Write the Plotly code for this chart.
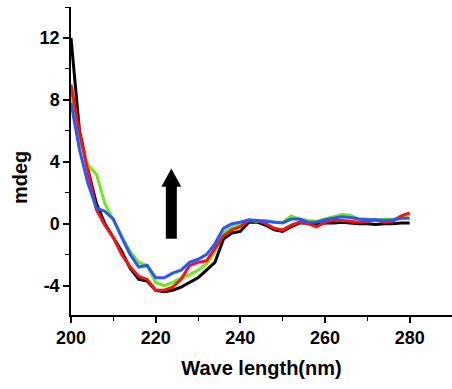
import plotly.graph_objects as go

wavelength = list(range(200, 282, 2))

black_mdeg = [12.0, 6.0, 3.5, 1.3, 0.0, -0.9, -1.8, -2.9, -3.6, -3.7, -4.3, -4.4, -4.3, -4.1, -3.8,
              -3.5, -3.0, -2.5, -1.0, -0.6, -0.5, 0.1, 0.1, -0.1, -0.4, -0.5, -0.2, 0.05, 0.05,
              -0.05, 0.05, 0.05, 0.1, 0.05, 0.0, 0.0, -0.05, 0.0, 0.0, 0.05, 0.05]
green_mdeg = [8.5, 5.5, 3.8, 3.2, 1.3, 0.2, -0.8, -1.8, -2.5, -2.7, -3.8, -4.0, -3.8, -3.5, -3.3,
              -3.0, -2.6, -1.8, -0.6, -0.2, 0.0, 0.2, 0.15, 0.2, 0.1, 0.1, 0.5, 0.3, 0.2,
              0.15, 0.3, 0.45, 0.6, 0.55, 0.3, 0.3, 0.2, 0.3, 0.25, 0.4, 0.6]
red_mdeg = [9.0, 5.9, 3.4, 0.9, -0.1, -0.9, -2.0, -2.8, -3.4, -3.6, -4.3, -4.3, -4.1, -3.6, -2.7,
            -2.5, -2.4, -1.6, -0.8, -0.4, -0.2, 0.2, 0.2, 0.0, -0.3, -0.4, -0.1, 0.1, 0.0,
            -0.2, 0.1, 0.2, 0.2, 0.15, 0.1, 0.15, 0.25, 0.1, 0.15, 0.5, 0.7]
blue_mdeg = [7.8, 4.8, 2.6, 1.0, 0.8, 0.3, -0.9, -2.0, -2.8, -2.7, -3.5, -3.5, -3.2, -3.0, -2.5,
             -2.3, -2.0, -1.3, -0.3, 0.0, 0.1, 0.25, 0.2, 0.15, 0.1, 0.05, 0.3, 0.3, 0.1,
             0.1, 0.25, 0.35, 0.45, 0.4, 0.3, 0.25, 0.25, 0.2, 0.25, 0.35, 0.35]

series = [("black", black_mdeg, "#000000"),
          ("green", green_mdeg, "#6fe81c"),
          ("red", red_mdeg, "#ff1010"),
          ("blue", blue_mdeg, "#2a55ff")]

x_ticks = [200, 220, 240, 260, 280]
y_ticks = [-4, 0, 4, 8, 12]

fig = go.Figure()
for name, vals, col in series:
    fig.add_trace(go.Scatter(x=wavelength, y=vals, mode="lines", name=name,
                             line=dict(color=col, width=3), showlegend=False))

# upward arrow (annotation)
ax_c, y_top, y_head, y_bot, shaft_hw, head_hw = 223.7, 3.56, 2.39, -0.97, 1.3, 2.35
path = (f"M {ax_c - shaft_hw} {y_bot} L {ax_c - shaft_hw} {y_head} L {ax_c - head_hw} {y_head} "
        f"L {ax_c} {y_top} L {ax_c + head_hw} {y_head} L {ax_c + shaft_hw} {y_head} "
        f"L {ax_c + shaft_hw} {y_bot} Z")
fig.add_shape(type="path", path=path, xref="x", yref="y", fillcolor="black",
              line=dict(color="black", width=0))

font_main = "Liberation Sans, Arial, sans-serif"
fig.update_layout(
    width=452, height=389,
    margin=dict(l=71, r=0, t=7, b=74, autoexpand=False),
    paper_bgcolor="white", plot_bgcolor="white",
    font=dict(family=font_main, color="black"),
    xaxis=dict(range=[200, 290], tickvals=x_ticks, ticktext=[f"<b>{v}</b>" for v in x_ticks],
               automargin=False,
               showgrid=False, zeroline=False, showline=True, linecolor="black", linewidth=1.5,
               ticks="outside", ticklen=6, tickwidth=1.5, tickcolor="black",
               tickfont=dict(size=18, family=font_main, color="black"),
               minor=dict(dtick=10, tick0=200, ticks="outside", ticklen=4, tickwidth=1, tickcolor="black"),
               title=dict(text="<b>Wave length(nm)</b>", font=dict(size=20, family=font_main), standoff=14)),
    yaxis=dict(range=[-5.9, 14], tickvals=y_ticks, ticktext=[f"<b>{v}</b>" for v in y_ticks],
               automargin=False,
               showgrid=False, zeroline=False, showline=True, linecolor="black", linewidth=1.5,
               ticks="outside", ticklen=6, tickwidth=1.5, tickcolor="black",
               tickfont=dict(size=18, family=font_main, color="black"),
               minor=dict(dtick=2, tick0=0, ticks="outside", ticklen=4, tickwidth=1, tickcolor="black")),
)
fig.add_annotation(text="<b>mdeg</b>", xref="paper", yref="paper", x=0, y=(315 - 178) / 308,
                   xanchor="center", yanchor="middle", textangle=-90, showarrow=False, xshift=-51,
                   font=dict(size=20, family=font_main, color="black"))

fig.write_html("out.html", config={"displayModeBar": False},
               post_script="document.body.style.margin='0';document.body.style.padding='0';")
